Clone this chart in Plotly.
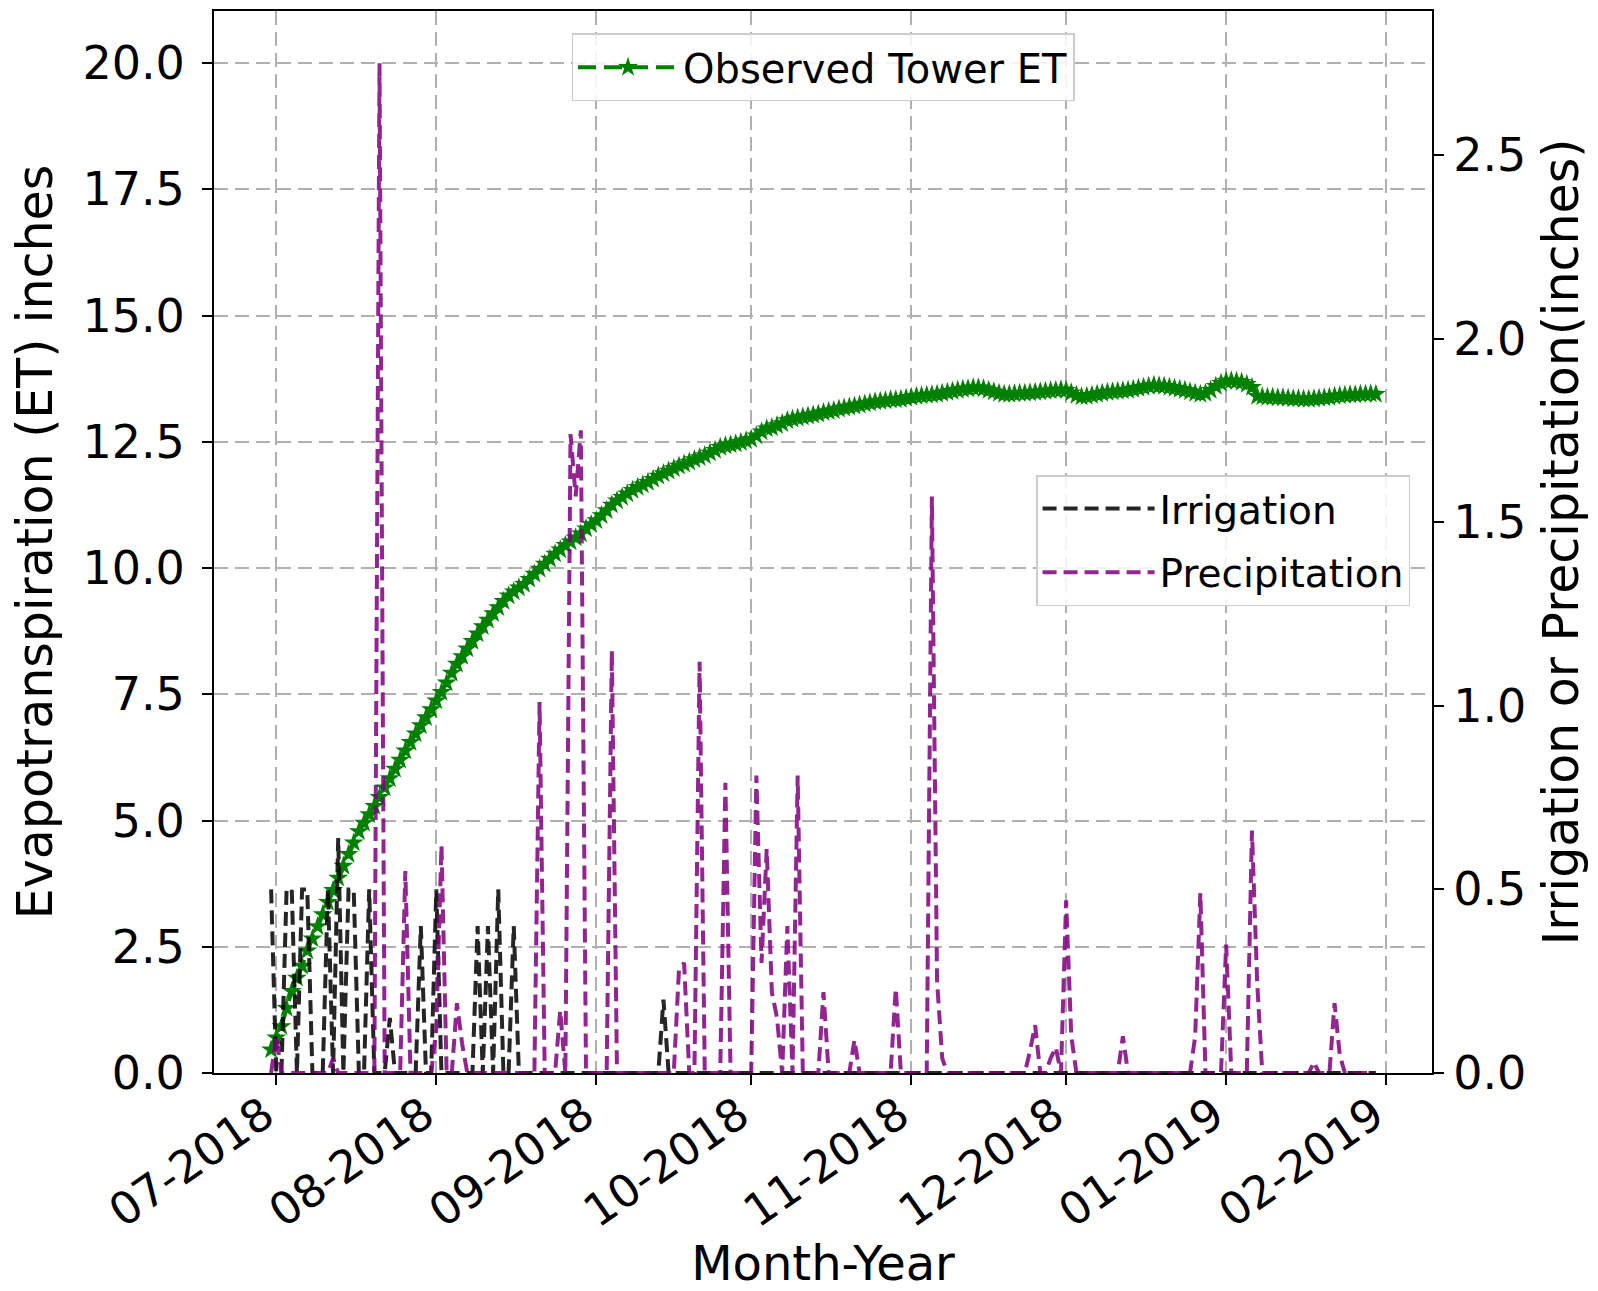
import pandas as pd
import plotly.graph_objects as go

# ---------------- data ----------------
start_date = "2018-06-30"
# cumulative observed tower ET (inches), one value per day from start_date
et_cum = [
    0.46, 0.70, 0.92, 1.28, 1.62, 1.88, 2.12, 2.42, 2.66, 2.90, 3.14,
    3.38, 3.62, 3.86, 4.10, 4.33, 4.56, 4.78, 4.95, 5.12, 5.28,
    5.46, 5.65, 5.83, 6.02, 6.20, 6.38, 6.55, 6.72, 6.88, 7.04,
    7.20, 7.37, 7.54, 7.73, 7.92, 8.10, 8.25, 8.40, 8.55, 8.70,
    8.84, 8.97, 9.10, 9.22, 9.34, 9.45, 9.53, 9.61, 9.68, 9.78,
    9.88, 9.98, 10.08, 10.18, 10.28, 10.36, 10.45, 10.52, 10.60, 10.68,
    10.78, 10.86, 10.94, 11.04, 11.14, 11.25, 11.33, 11.40, 11.47, 11.54,
    11.60, 11.65, 11.70, 11.76, 11.82, 11.87, 11.92, 11.97, 12.02, 12.06,
    12.10, 12.15, 12.19, 12.23, 12.28, 12.33, 12.39, 12.42, 12.44, 12.46,
    12.49, 12.52, 12.55, 12.62, 12.70, 12.76, 12.78, 12.82, 12.86, 12.92,
    12.95, 12.97, 12.99, 13.01, 13.03, 13.05, 13.08, 13.10, 13.12, 13.15,
    13.17, 13.19, 13.21, 13.23, 13.25, 13.27, 13.29, 13.30, 13.31, 13.33,
    13.33, 13.34, 13.36, 13.38, 13.40, 13.41, 13.42, 13.43, 13.44, 13.46,
    13.48, 13.50, 13.52, 13.54, 13.55, 13.57, 13.57, 13.55, 13.52, 13.49,
    13.46, 13.44, 13.44, 13.45, 13.46, 13.46, 13.47, 13.48, 13.49, 13.50,
    13.51, 13.52, 13.53, 13.52, 13.47, 13.42, 13.39, 13.40, 13.42, 13.44,
    13.46, 13.48, 13.49, 13.50, 13.51, 13.52, 13.54, 13.56, 13.58, 13.60,
    13.62, 13.61, 13.60, 13.58, 13.56, 13.54, 13.52, 13.49, 13.46, 13.44,
    13.46, 13.52, 13.60, 13.66, 13.70, 13.71, 13.70, 13.68, 13.64, 13.58,
    13.40, 13.39, 13.38, 13.38, 13.37, 13.37, 13.36, 13.35, 13.35, 13.34,
    13.34, 13.35, 13.36, 13.37, 13.38, 13.40, 13.41, 13.42, 13.43, 13.43,
    13.44, 13.44, 13.45, 13.44,
]

# irrigation days (all other days are 0)
irr_dates = ["2018-06-30", "2018-07-03", "2018-07-04", "2018-07-06", "2018-07-07",
             "2018-07-11", "2018-07-13", "2018-07-15", "2018-07-16", "2018-07-19",
             "2018-07-23", "2018-07-29", "2018-08-01", "2018-08-09", "2018-08-11",
             "2018-08-13", "2018-08-16", "2018-09-14"]
irr_values = [0.5, 0.5, 0.5, 0.5, 0.5,
              0.5, 0.64, 0.5, 0.5, 0.5,
              0.15, 0.4, 0.5, 0.4, 0.4,
              0.5, 0.4, 0.2]

# precipitation days (all other days are 0)
pcp_dates = ["2018-07-01", "2018-07-12", "2018-07-21", "2018-07-26", "2018-08-01",
             "2018-08-02", "2018-08-05", "2018-08-06", "2018-08-21", "2018-08-25",
             "2018-08-27", "2018-08-28", "2018-08-29", "2018-09-04", "2018-09-17",
             "2018-09-18", "2018-09-21", "2018-09-26", "2018-10-02", "2018-10-03",
             "2018-10-04", "2018-10-05", "2018-10-06", "2018-10-08", "2018-10-10",
             "2018-10-15", "2018-10-21", "2018-10-29", "2018-11-05", "2018-11-06",
             "2018-11-07", "2018-11-24", "2018-11-25", "2018-11-28", "2018-11-29",
             "2018-12-01", "2018-12-02", "2018-12-12", "2018-12-26", "2018-12-27",
             "2019-01-01", "2019-01-06", "2019-01-07", "2019-01-18", "2019-01-22",
             "2019-01-23"]
pcp_values = [0.10, 0.04, 2.75, 0.55, 0.12,
              0.62, 0.19, 0.08, 1.01, 0.17,
              1.74, 1.57, 1.75, 1.15, 0.28,
              0.30, 1.12, 0.79, 0.81, 0.30,
              0.61, 0.22, 0.15, 0.40, 0.81,
              0.22, 0.09, 0.23, 1.57, 0.25,
              0.04, 0.06, 0.13, 0.04, 0.07,
              0.47, 0.10, 0.10, 0.10, 0.49,
              0.35, 0.66, 0.25, 0.03, 0.19,
              0.05]

month_ticks = ["2018-07-01", "2018-08-01", "2018-09-01", "2018-10-01",
               "2018-11-01", "2018-12-01", "2019-01-01", "2019-02-01"]

# ---------------- build daily series ----------------
dates = pd.date_range(start_date, periods=len(et_cum), freq="D")
irr = pd.Series(0.0, index=dates)
irr.loc[pd.to_datetime(irr_dates)] = irr_values
pcp = pd.Series(0.0, index=dates)
pcp.loc[pd.to_datetime(pcp_dates)] = pcp_values

FONT = "DejaVu Sans"
fig = go.Figure()

fig.add_trace(go.Scatter(
    x=dates, y=et_cum, name="Observed Tower ET", mode="lines+markers",
    line=dict(color="green", width=4, dash="18px,8px"),
    marker=dict(symbol="star", size=15, color="green", line=dict(width=0)),
    legend="legend", yaxis="y", showlegend=True,
))
fig.add_trace(go.Scatter(
    x=irr.index, y=irr.values, name="Irrigation", mode="lines",
    line=dict(color="black", width=4, dash="14px,7px"),
    legend="legend2", legendgroup="irr", yaxis="y2", opacity=0.85, showlegend=True,
))
fig.add_trace(go.Scatter(
    x=pcp.index, y=pcp.values, name="Precipitation", mode="lines",
    line=dict(color="purple", width=4, dash="14px,7px"),
    legend="legend2", legendgroup="pcp", yaxis="y2", opacity=0.85, showlegend=True,
))

grid = dict(showgrid=True, gridcolor="#b0b0b0", gridwidth=1.5, griddash="14px,7px")

fig.update_layout(
    width=1598, height=1291,
    margin=dict(l=214, r=166, t=11, b=218),
    showlegend=True,
    paper_bgcolor="white", plot_bgcolor="white",
    font=dict(family=FONT, color="black", size=46),
    xaxis=dict(
        type="date", automargin=False,
        range=["2018-06-18 22:30", "2019-02-09 21:00"],
        tickvals=month_ticks, tickformat="%m-%Y", tickangle=-35,
        ticks="outside", ticklen=10, tickwidth=2, tickcolor="black",
        ticklabelshift=-12, ticklabelstandoff=-14,
        showline=True, linecolor="black", linewidth=2, mirror=True,
        title=dict(text="Month-Year", font=dict(size=48), standoff=8),
        tickfont=dict(size=45),
        **grid,
    ),
    yaxis=dict(
        automargin=False,
        range=[0, 21.03], tickvals=[0, 2.5, 5, 7.5, 10, 12.5, 15, 17.5, 20],
        tickformat=".1f",
        ticks="outside", ticklen=10, tickwidth=2, tickcolor="black",
        ticklabelstandoff=8,
        showline=True, linecolor="black", linewidth=2,
        title=dict(text="Evapotranspiration (ET) inches", font=dict(size=49), standoff=14),
        zeroline=False,
        **grid,
    ),
    yaxis2=dict(
        automargin=False,
        range=[0, 2.892], overlaying="y", side="right",
        tickvals=[0, 0.5, 1.0, 1.5, 2.0, 2.5], tickformat=".1f",
        ticks="outside", ticklen=10, tickwidth=2, tickcolor="black",
        showline=True, linecolor="black", linewidth=2,
        showgrid=False, zeroline=False,
        title=dict(text="Irrigation or Precipitation(inches)", font=dict(size=49), standoff=18),
    ),
    legend=dict(
        x=0.5, xanchor="center", y=0.979, yanchor="top",
        bgcolor="rgba(255,255,255,0.85)", bordercolor="#cccccc", borderwidth=1.5,
        font=dict(size=40), itemwidth=100,
    ),
    legend2=dict(
        x=0.982, xanchor="right", y=0.563, yanchor="top",
        bgcolor="rgba(255,255,255,0.85)", bordercolor="#cccccc", borderwidth=1.5,
        font=dict(size=39), itemwidth=112, tracegroupgap=10,
    ),
)

fig.write_html(
    "out.html",
    config={"displayModeBar": False},
    post_script="document.body.style.margin='0';document.body.style.overflow='hidden';",
)
